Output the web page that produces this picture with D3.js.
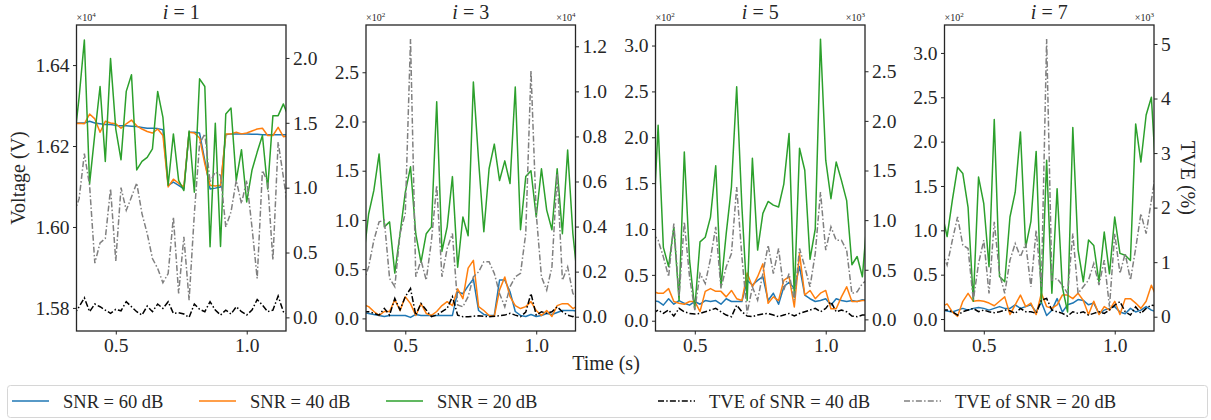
<!DOCTYPE html>
<html>
<head>
<meta charset="utf-8">
<script src="https://cdn.jsdelivr.net/npm/d3@7"></script>
<style>
  body { margin: 0; background: #fff; }
  svg text { font-family: "Liberation Serif", serif; fill: #262626; }
</style>
</head>
<body>
<div id="chart"></div>
<script>
// time samples (s)
var time = [0.34,0.36,0.38,0.40,0.42,0.44,0.46,0.48,0.50,0.52,0.54,0.56,0.58,0.60,0.62,0.64,0.66,0.68,0.70,0.72,0.74,0.76,0.78,0.80,0.82,0.84,0.86,0.88,0.90,0.92,0.94,0.96,0.98,1.00,1.02,1.04,1.06,1.08,1.10,1.12,1.14,1.16];

// harmonic order shown in each panel
var harmonics = [1, 3, 5, 7];

// i = 1  (voltage in V, TVE in %)
var snr60_1 = [16257,16257,16257,16261,16257,16255,16253,16253,16251,16250,16250,16249,16248,16246,16244,16244,16243,16240,16103,16111,16103,16094,16234,16234,16232,16164,16094,16096,16099,16228,16230,16230,16230,16230,16229,16229,16228,16228,16228,16228,16228,16228];
var snr40_1 = [16255,16256,16255,16279,16267,16234,16261,16257,16255,16244,16255,16264,16250,16242,16236,16232,16242,16226,16099,16118,16108,16099,16234,16232,16220,16156,16103,16101,16103,16230,16230,16234,16230,16232,16237,16242,16244,16226,16226,16246,16223,16226];
var snr20_1 = [16205,16320,16462,16107,16230,16347,16162,16416,16242,16166,16335,16376,16141,16162,16172,16193,16335,16271,16103,16230,16115,16090,16237,16086,16366,16347,15951,16256,15952,16279,16294,16115,16191,16062,16140,16185,16226,16094,16275,16275,16304,16271];
var tve40_1 = [0.018,0.082,0.151,0.044,0.103,0.082,0.056,0.031,0.062,0.051,0.121,0.082,0.044,0.018,0.087,0.044,0.103,0.069,0.121,0.031,0.036,0.026,0.0,0.103,0.062,0.044,0.121,0.056,0.018,0.056,0.026,0.082,0.044,0.018,0.056,0.138,0.095,0.044,0.056,0.164,0.044,0.018];
var tve20_1 = [0.800,0.915,1.262,1.018,0.418,0.574,0.608,0.992,0.436,1.000,0.826,0.928,1.036,0.800,0.646,0.454,0.377,0.267,0.338,0.774,0.185,0.621,0.133,0.800,1.338,1.415,1.044,1.121,1.095,0.697,0.813,1.056,0.877,1.056,0.697,0.300,1.133,1.044,0.441,1.351,1.082,0.800];

// i = 3
var snr60_3 = [6,5,4,3,2,3,3,3,3,1,4,3,3,3,3,3,3,3,27,25,33,40,8,4,3,3,39,39,27,7,3,2,4,2,3,5,4,6,8,8,8,7];
var snr40_3 = [14,12,7,3,7,7,19,8,22,15,3,15,5,3,7,13,17,13,30,20,51,59,12,8,3,2,29,42,22,13,10,12,17,8,3,8,2,13,15,15,10,13];
var snr20_3 = [60,106,130,167,93,98,46,86,128,154,86,57,86,93,220,68,93,144,52,103,84,240,160,88,152,177,140,160,137,235,90,144,150,103,152,110,90,152,86,171,86,35];
var tve40_3 = [220,220,150,70,370,70,810,300,890,1250,70,590,300,0,70,220,370,890,70,0,0,20,40,20,0,20,40,70,150,70,0,200,1030,70,220,150,220,440,220,70,0,150];
var tve20_3 = [1500,2210,3390,4210,4280,1700,1330,3690,4580,12320,1770,2510,1620,3390,5830,1770,3030,3690,520,440,890,1770,1990,2440,2440,1920,1030,440,1330,1770,1920,3690,10920,4580,1770,1180,2210,6350,1620,2210,1030,740];

// i = 5
var snr60_5 = [22,21,17,24,18,22,19,17,21,18,22,21,22,18,24,21,21,21,44,39,44,48,22,30,18,37,42,35,59,28,24,21,22,24,17,24,22,21,22,21,23,22];
var snr40_5 = [32,30,30,35,21,19,18,21,21,10,32,35,32,32,26,33,24,22,52,37,48,62,19,26,22,44,48,15,73,28,33,24,30,33,13,13,26,37,21,21,22,22];
var snr20_5 = [95,213,80,59,102,22,184,66,13,86,91,113,169,37,95,146,255,124,22,177,77,117,130,126,124,149,204,26,188,164,67,100,307,175,133,173,153,131,61,70,48,117];
var tve40_5 = [60,94,60,94,34,111,77,60,54,60,77,94,111,77,44,27,144,77,34,27,44,54,60,44,27,44,60,34,60,77,94,111,77,111,178,77,94,77,34,27,44,44];
var tve20_5 = [865,798,630,429,965,228,982,429,94,462,362,613,932,312,529,663,1334,630,60,328,194,462,747,462,714,295,462,194,714,529,328,663,1283,697,932,798,798,697,261,278,362,400];

// i = 7
var snr60_7 = [10,9,8,10,12,10,12,13,12,10,12,14,12,12,16,12,14,16,8,19,4,10,23,8,16,18,22,21,16,18,6,10,12,14,8,6,12,8,10,14,10,8];
var snr40_7 = [14,17,8,3,20,29,20,21,20,18,15,20,25,5,16,27,14,18,5,29,14,12,16,27,27,23,29,21,5,20,5,14,10,20,5,23,23,18,12,20,38,25];
var snr20_7 = [120,93,134,171,164,126,20,160,130,59,225,48,42,115,143,211,81,110,189,18,179,29,147,36,8,216,78,42,89,83,42,98,51,115,74,72,66,220,177,230,250,149];
var tve40_7 = [122,122,91,30,91,122,152,91,122,91,73,91,122,110,61,152,91,91,61,305,335,122,91,61,12,91,61,91,30,61,91,61,122,213,274,91,30,183,61,152,213,195];
var tve20_7 = [1200,945,1403,1829,1311,1250,305,976,1403,427,1738,793,427,1037,1342,1098,1342,549,1585,549,5092,671,701,579,427,1525,427,549,671,976,579,1037,183,1525,793,1159,671,1250,1890,1525,2134,2744];

// tick labels
var xTicks = [0.5, 1.0];
var leftTicks = [[15800,16000,16200,16400],[0,50,100,150,200,250],[0,50,100,150,200,250,300],[0,50,100,150,200,250,300]];
var rightTicks = [[0,0.5,1,1.5,2],[0,2000,4000,6000,8000,10000,12000],[0,500,1000,1500,2000,2500],[0,1000,2000,3000,4000,5000]];
var leftExp = [4, 2, 2, 2];
var rightExp = [0, 4, 3, 3];
var rightDigits = [1, 1, 1, 0];

var legendNames = ["SNR = 60 dB", "SNR = 40 dB", "SNR = 20 dB", "TVE of SNR = 40 dB", "TVE of SNR = 20 dB"];

// layout
var W = 1211, H = 420;
var panelX = [76.5, 366, 655.5, 944.5];
var panelW = 209.5;
var plotTop = 25, plotBottom = 331;
var leftDomains = [[15743,16499],[-12.8,298],[-11.2,322.4],[-13.5,331.5]];
var rightDomains = [[-0.105,2.254],[-635,12945],[-117,2966],[-262,5348]];

var styles = [
  { color: "#1f77b4", dash: null },
  { color: "#ff7f0e", dash: null },
  { color: "#2ca02c", dash: null },
  { color: "#000000", dash: "6,2.2,1.5,2.2" },
  { color: "#808080", dash: "6,2.2,1.5,2.2" }
];

var panels = [
  { left: [snr60_1, snr40_1, snr20_1], right: [tve40_1, tve20_1] },
  { left: [snr60_3, snr40_3, snr20_3], right: [tve40_3, tve20_3] },
  { left: [snr60_5, snr40_5, snr20_5], right: [tve40_5, tve20_5] },
  { left: [snr60_7, snr40_7, snr20_7], right: [tve40_7, tve20_7] }
];

var svg = d3.select("#chart").append("svg")
  .attr("width", W)
  .attr("height", H)
  .attr("viewBox", "0 0 " + W + " " + H);

var fs = 19.5;

function styleAxis(g) {
  g.select(".domain").remove();
  g.selectAll(".tick line").attr("stroke", "#262626").attr("stroke-width", 1);
  g.selectAll(".tick text").attr("font-size", fs).attr("font-family", "Liberation Serif").attr("fill", "#262626");
}

function offsetText(x, y, exp, anchor) {
  var t = svg.append("text")
    .attr("x", x).attr("y", y)
    .attr("text-anchor", anchor)
    .attr("font-size", 10);
  t.append("tspan").text("\u00d710");
  t.append("tspan").attr("dy", -4).attr("font-size", 7).text(exp);
}

panels.forEach(function (p, k) {
  var x0 = panelX[k];
  var x = d3.scaleLinear().domain([0.35, 1.15]).range([x0, x0 + panelW]);
  var yl = d3.scaleLinear().domain(leftDomains[k]).range([plotBottom, plotTop]);
  var yr = d3.scaleLinear().domain(rightDomains[k]).range([plotBottom, plotTop]);

  // clip area
  svg.append("clipPath").attr("id", "clip" + k)
    .append("rect")
    .attr("x", x0).attr("y", plotTop)
    .attr("width", panelW).attr("height", plotBottom - plotTop);

  var plot = svg.append("g").attr("clip-path", "url(#clip" + k + ")");

  // voltage lines on the left axis
  p.left.forEach(function (series, s) {
    var line = d3.line()
      .x(function (d, i) { return x(time[i]); })
      .y(function (d) { return yl(d); });
    plot.append("path")
      .datum(series)
      .attr("d", line)
      .attr("fill", "none")
      .attr("stroke", styles[s].color)
      .attr("stroke-width", 1.5)
      .attr("stroke-linejoin", "round");
  });

  // TVE lines on the twin axis
  p.right.forEach(function (series, s) {
    var line = d3.line()
      .x(function (d, i) { return x(time[i]); })
      .y(function (d) { return yr(d); });
    plot.append("path")
      .datum(series)
      .attr("d", line)
      .attr("fill", "none")
      .attr("stroke", styles[s + 3].color)
      .attr("stroke-width", 1.5)
      .attr("stroke-dasharray", styles[s + 3].dash);
  });

  // frame
  svg.append("rect")
    .attr("x", x0).attr("y", plotTop)
    .attr("width", panelW).attr("height", plotBottom - plotTop)
    .attr("fill", "none")
    .attr("stroke", "#262626")
    .attr("stroke-width", 1.3);

  // axes
  var lScale = Math.pow(10, leftExp[k]);
  var lDigits = k === 0 ? 2 : 1;
  svg.append("g")
    .attr("transform", "translate(" + x0 + ",0)")
    .call(d3.axisLeft(yl).tickValues(leftTicks[k]).tickSize(3.5).tickPadding(3.5)
      .tickFormat(function (d) { return (d / lScale).toFixed(lDigits); }))
    .call(styleAxis);

  var rScale = Math.pow(10, rightExp[k]);
  svg.append("g")
    .attr("transform", "translate(" + (x0 + panelW) + ",0)")
    .call(d3.axisRight(yr).tickValues(rightTicks[k]).tickSize(3.5).tickPadding(3.5)
      .tickFormat(function (d) { return (d / rScale).toFixed(rightDigits[k]); }))
    .call(styleAxis);

  svg.append("g")
    .attr("transform", "translate(0," + plotBottom + ")")
    .call(d3.axisBottom(x).tickValues(xTicks).tickSize(3.5).tickPadding(3.5)
      .tickFormat(d3.format(".1f")))
    .call(styleAxis);

  // offset (multiplier) labels
  offsetText(x0, plotTop - 4, leftExp[k], "start");
  if (rightExp[k] > 0) offsetText(x0 + panelW, plotTop - 4, rightExp[k], "end");

  // title
  var title = svg.append("text")
    .attr("x", x0 + panelW / 2).attr("y", 19)
    .attr("text-anchor", "middle")
    .attr("font-size", 20);
  title.append("tspan").attr("font-style", "italic").text("i");
  title.append("tspan").text(" = " + harmonics[k]);
});

// axis titles
svg.append("text")
  .attr("transform", "translate(25,178) rotate(-90)")
  .attr("text-anchor", "middle")
  .attr("font-size", 20)
  .text("Voltage (V)");

svg.append("text")
  .attr("transform", "translate(1181,178) rotate(90)")
  .attr("text-anchor", "middle")
  .attr("font-size", 20)
  .text("TVE (%)");

svg.append("text")
  .attr("x", 606).attr("y", 370)
  .attr("text-anchor", "middle")
  .attr("font-size", 20)
  .text("Time (s)");

// legend
var legend = svg.append("g");
legend.append("rect")
  .attr("x", 7.5).attr("y", 385.5)
  .attr("width", 1200).attr("height", 32)
  .attr("rx", 3)
  .attr("fill", "#fff")
  .attr("stroke", "#d6d6d6");

var legendX = [12, 199, 386, 658, 904];
legendNames.forEach(function (name, s) {
  legend.append("line")
    .attr("x1", legendX[s]).attr("x2", legendX[s] + 37)
    .attr("y1", 401).attr("y2", 401)
    .attr("stroke", styles[s].color)
    .attr("stroke-width", 1.5)
    .attr("stroke-dasharray", styles[s].dash);
  legend.append("text")
    .attr("x", legendX[s] + 51).attr("y", 408)
    .attr("font-size", 18.5)
    .text(name);
});
</script>
</body>
</html>
